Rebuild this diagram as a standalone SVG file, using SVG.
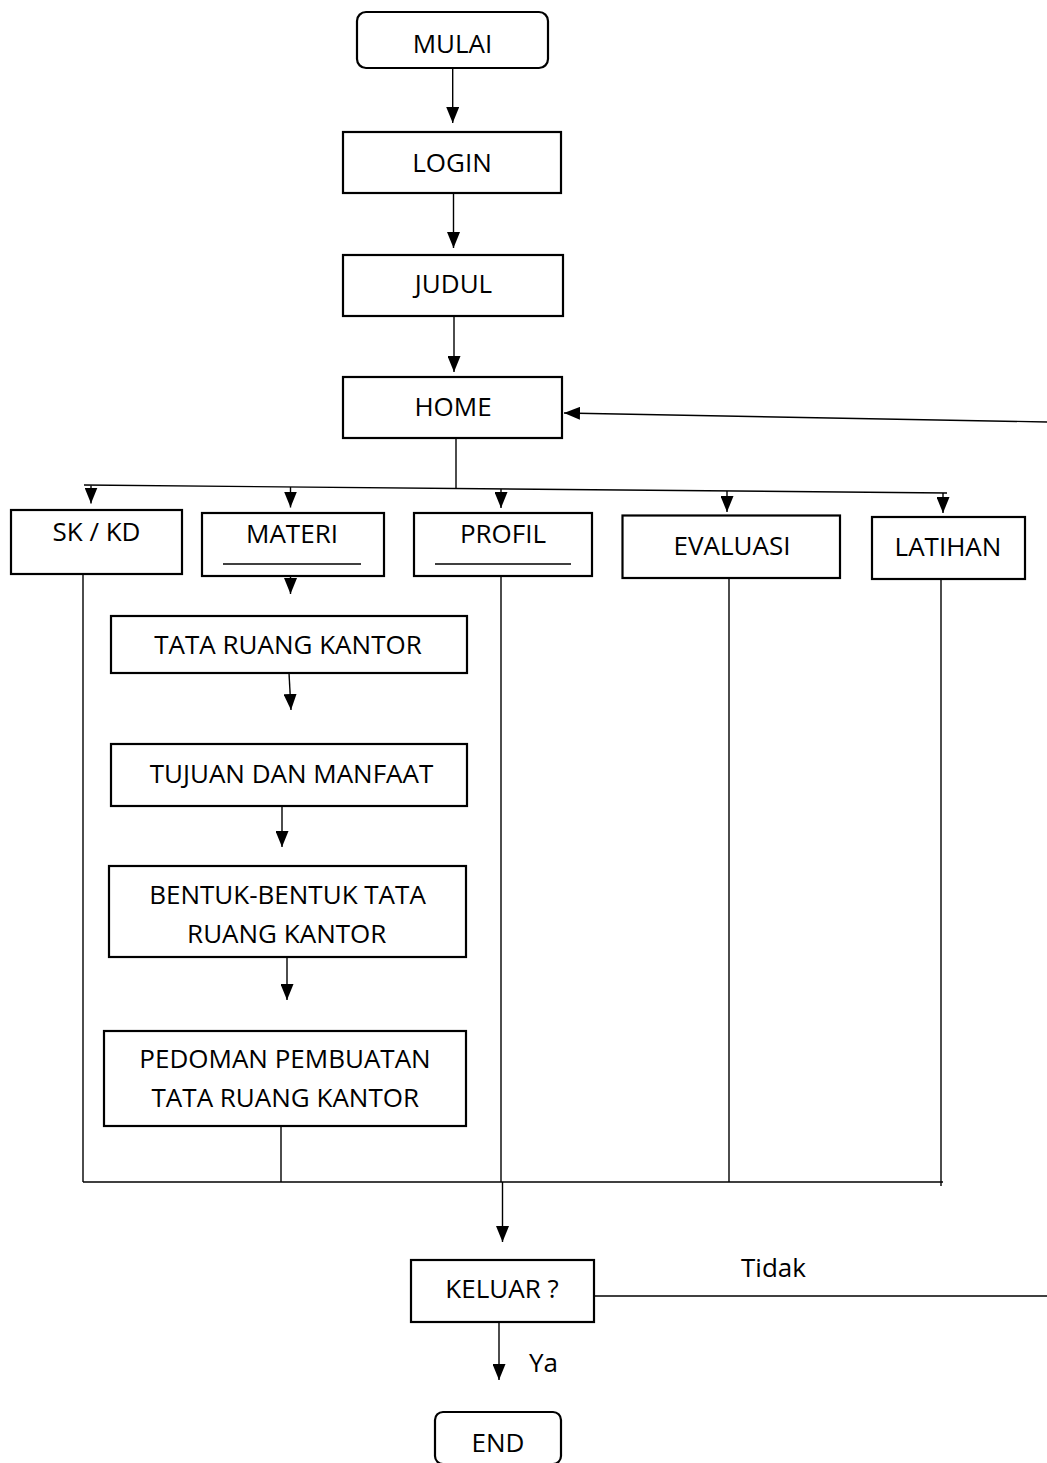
<svg xmlns="http://www.w3.org/2000/svg" width="1047" height="1463" viewBox="0 0 1047 1463">
<style>
.box{fill:#fff;stroke:#000;stroke-width:2.2}
.ln{fill:none;stroke:#000;stroke-width:1.4}
.ar{fill:none;stroke:#000;stroke-width:1.4;marker-end:url(#ah)}
text{font-family:"Open Sans","Noto Sans","Liberation Sans",sans-serif;font-size:26px;fill:#000;text-anchor:middle}
.l{text-anchor:start}
</style>
<defs>
<marker id="ah" viewBox="0 0 16 13" refX="16" refY="6.5" markerWidth="16" markerHeight="13" markerUnits="userSpaceOnUse" orient="auto">
<path d="M0,0 L16,6.5 L0,13 z" fill="#000"/>
</marker>
</defs>
<g id="connectors">
<path class="ar" d="M452.7,68 L452.7,123"/>
<path class="ar" d="M453.5,193 L453.5,248"/>
<path class="ar" d="M454,316 L454,372"/>
<path class="ln" d="M456,438 L456,488"/>
<path class="ln" d="M84,485 L947,493"/>
<path class="ar" d="M91,485.5 L91,503.5"/>
<path class="ar" d="M290.5,487 L290.5,507.5"/>
<path class="ar" d="M501,489 L501,508"/>
<path class="ar" d="M727,491 L727,512"/>
<path class="ar" d="M943,493 L943,513"/>
<path class="ar" d="M290.5,576 L290.5,594"/>
<path class="ar" d="M289,673 L291,710"/>
<path class="ar" d="M282,806 L282,847"/>
<path class="ar" d="M287,957 L287,1000"/>
<path class="ln" d="M83,574 L83,1182"/>
<path class="ln" d="M281,1126 L281,1182"/>
<path class="ln" d="M501,576 L501,1182"/>
<path class="ln" d="M729,578 L729,1182"/>
<path class="ln" d="M941,579 L941,1186"/>
<path class="ln" d="M83,1182 L943,1182"/>
<path class="ar" d="M502.5,1182 L502.5,1242"/>
<path class="ln" d="M594,1296 L1047,1296"/>
<path class="ar" d="M1047,422 L564,413"/>
<path class="ar" d="M499,1322 L499,1380"/>
</g>
<g id="mulai"><rect class="box" x="357" y="12" width="191" height="56" rx="9"/><text x="452.5" y="53">MULAI</text></g>
<g id="login"><rect class="box" x="343" y="132" width="218" height="61"/><text x="452" y="172">LOGIN</text></g>
<g id="judul"><rect class="box" x="343" y="255" width="220" height="61"/><text x="453.5" y="293">JUDUL</text></g>
<g id="home"><rect class="box" x="343" y="377" width="219" height="61"/><text x="453" y="416">HOME</text></g>
<g id="skkd"><rect class="box" x="11" y="510" width="171" height="64"/><text x="96.5" y="541">SK / KD</text></g>
<g id="materi"><rect class="box" x="202" y="513" width="182" height="63"/><text x="292" y="543">MATERI</text><path class="ln" d="M223,564 L361,564"/></g>
<g id="profil"><rect class="box" x="414" y="513" width="178" height="63"/><text x="503" y="543">PROFIL</text><path class="ln" d="M435,564 L571,564"/></g>
<g id="evaluasi"><rect class="box" x="622.5" y="515.5" width="217.5" height="62.5"/><text x="732" y="555">EVALUASI</text></g>
<g id="latihan"><rect class="box" x="872" y="517" width="153" height="62"/><text x="948" y="556">LATIHAN</text></g>
<g id="tata"><rect class="box" x="111" y="616" width="356" height="57"/><text x="288" y="654">TATA RUANG KANTOR</text></g>
<g id="tujuan"><rect class="box" x="111" y="744" width="356" height="62"/><text x="291.5" y="783">TUJUAN DAN MANFAAT</text></g>
<g id="bentuk"><rect class="box" x="109" y="866" width="357" height="91"/><text x="287.5" y="904">BENTUK-BENTUK TATA</text><text x="286.7" y="943">RUANG KANTOR</text></g>
<g id="pedoman"><rect class="box" x="104" y="1031" width="362" height="95"/><text x="285" y="1068">PEDOMAN PEMBUATAN</text><text x="285.3" y="1107">TATA RUANG KANTOR</text></g>
<g id="keluar"><rect class="box" x="411" y="1260" width="183" height="62"/><text x="502" y="1298">KELUAR ?</text></g>
<g id="end"><rect class="box" x="435" y="1412" width="126" height="52" rx="8"/><text x="498" y="1452">END</text></g>
<g id="labels"><text class="l" x="741" y="1277">Tidak</text><text class="l" x="529" y="1372">Ya</text></g>
</svg>
